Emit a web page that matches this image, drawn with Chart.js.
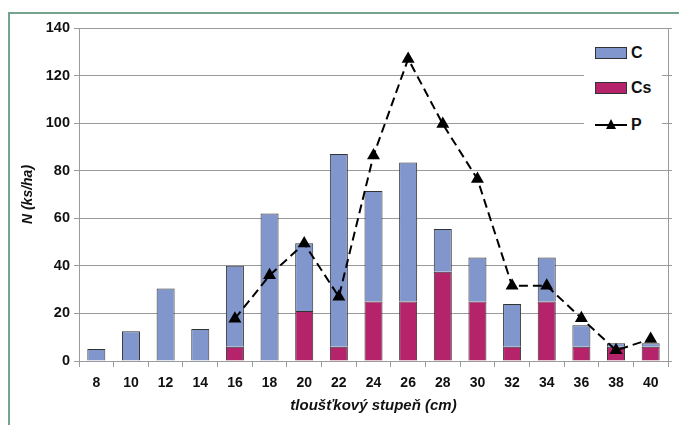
<!DOCTYPE html>
<html>
<head>
<meta charset="utf-8">
<script src="https://cdn.jsdelivr.net/npm/chart.js@4.4.1/dist/chart.umd.min.js"></script>
<style>
  html, body { margin: 0; padding: 0; background: #fff; }
  #wrap { position: relative; width: 679px; height: 425px; overflow: hidden; font-family: "Liberation Sans", Arial, sans-serif; }
  #frame { position: absolute; left: 8px; top: 12px; width: 700px; height: 440px; border: 2px solid #76a38b; }
  #chart { position: absolute; left: 0; top: 0; }
  #legend { position: absolute; left: 584px; top: 40px; width: 78px; height: 112px; background: #fff; }
  .leg-item { position: absolute; left: 11px; height: 16px; display: flex; align-items: center; font-weight: bold; font-size: 16px; color: #111; }
  .swatch { width: 30px; height: 10px; border: 1px solid #333; margin-right: 4px; }
  .leg-line { position: relative; width: 32px; height: 12px; margin-right: 4px; }
  .leg-line::before { content: ""; position: absolute; left: 0; right: 0; top: 5px; border-top: 2px solid #000; }
  .leg-line::after { content: ""; position: absolute; left: 11px; top: 0; border-left: 5px solid transparent; border-right: 5px solid transparent; border-bottom: 10px solid #000; }
</style>
</head>
<body>
<div id="wrap">
  <div id="frame"></div>
  <canvas id="chart" width="679" height="425"></canvas>
  <div id="legend">
    <div class="leg-item" style="top:5px"><span class="swatch" style="background:#8096cc"></span>C</div>
    <div class="leg-item" style="top:40px"><span class="swatch" style="background:#b5236b"></span>Cs</div>
    <div class="leg-item" style="top:77px"><span class="leg-line"></span>P</div>
  </div>
</div>
<script>
const categories = ["8", "10", "12", "14", "16", "18", "20", "22", "24", "26", "28", "30", "32", "34", "36", "38", "40"];
// Cs sits at the bottom of each stack, C on top of it
const csValues = [0, 0, 0, 0, 6, 0, 21, 6, 25, 25, 37.5, 25, 6, 25, 6, 6, 6];
const cValues = [5, 12.5, 30.5, 13.5, 34, 62, 28.5, 81, 46.5, 58.5, 18, 18.5, 18, 18.5, 9, 1.5, 1.5];
const pValues = [null, null, null, null, 17.8, 36, 49.4, 27, 86.4, 127, 99.6, 76.5, 31.6, 31.6, 18, 4.5, 9.2];
const yTicks = [0, 20, 40, 60, 80, 100, 120, 140];

const FONT = "'Liberation Sans', Arial, sans-serif";
const GRID = "#9a9a9a";

new Chart(document.getElementById("chart").getContext("2d"), {
  type: "bar",
  data: {
    labels: categories,
    datasets: [
      {
        type: "line", label: "P", data: pValues, order: 0, stack: "p",
        borderColor: "#000", borderWidth: 2, borderDash: [9, 5],
        pointStyle: "triangle", pointRadius: 5.5, pointBackgroundColor: "#000", pointBorderColor: "#000",
        fill: false, tension: 0,
      },
      { label: "Cs", data: csValues, order: 1, backgroundColor: "#b5236b", borderColor: "#333", borderWidth: 1, barPercentage: 0.52, categoryPercentage: 1 },
      { label: "C", data: cValues, order: 1, backgroundColor: "#8096cc", borderColor: "#333", borderWidth: 1, barPercentage: 0.52, categoryPercentage: 1 },
    ],
  },
  options: {
    responsive: false,
    animation: false,
    layout: { padding: { top: 28, right: 0, bottom: 0, left: 0 } },
    plugins: { legend: { display: false }, tooltip: { enabled: false } },
    scales: {
      x: {
        stacked: true,
        offset: true,
        grid: { offset: true, drawOnChartArea: false, drawTicks: true, tickLength: 6, color: GRID },
        border: { display: true, color: GRID, width: 1 },
        ticks: { color: "#111", font: { family: FONT, size: 14, weight: "bold" }, padding: 8, maxRotation: 0 },
        title: { display: true, text: "tloušťkový stupeň (cm)", color: "#111", font: { family: FONT, size: 15, weight: "bold", style: "italic" }, padding: { top: 0, bottom: 10 } },
        afterFit: (s) => { s.height = 64; },
      },
      y: {
        stacked: true,
        min: 0, max: 140,
        afterBuildTicks: (s) => { s.ticks = yTicks.map((v) => ({ value: v })); },
        grid: { color: GRID, tickLength: 5, lineWidth: 1 },
        border: { display: true, color: GRID, width: 1 },
        ticks: { color: "#111", font: { family: FONT, size: 14.5, weight: "bold" }, padding: 4 },
        title: { display: true, text: "N (ks/ha)", color: "#111", font: { family: FONT, size: 14, weight: "bold", style: "italic" }, padding: { top: 20, bottom: 0 } },
        afterFit: (s) => { s.width = 79; },
      },
      y2: {
        position: "right",
        min: 0, max: 140,
        afterBuildTicks: (s) => { s.ticks = yTicks.map((v) => ({ value: v })); },
        grid: { drawOnChartArea: false, tickLength: 4, color: GRID },
        border: { display: true, color: GRID, width: 1 },
        ticks: { display: false },
        afterFit: (s) => { s.width = 11; },
      },
    },
  },
});
</script>
</body>
</html>
